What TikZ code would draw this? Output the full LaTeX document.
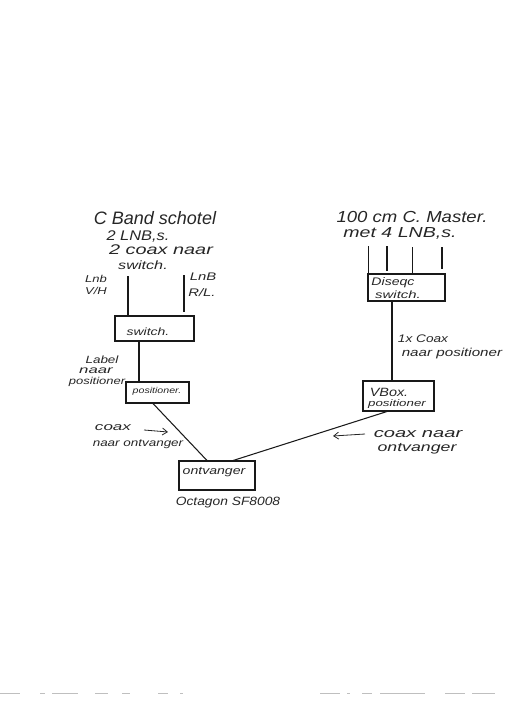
\documentclass[tikz,border=0pt]{standalone}
\usepackage{graphicx}
\usepackage{fontspec}
\setmainfont{Liberation Sans}
\usetikzlibrary{calc,arrows.meta}
\newcommand{\sx}[2]{\scalebox{#1}[1]{#2}}
\tikzset{
  wire/.style={line width=1.05pt,black!90},
  boxn/.style={draw=black!90,line width=1.05pt,inner sep=0pt,fill=none},
  hw/.style={inner sep=0pt,text=black!85,font=\itshape\fontsize{#1}{#1}\selectfont},
  pointer/.style={line width=0.8pt,black!85,-{Straight Barb[length=5pt,width=7pt]}},
  speck/.style={line width=0.5pt,black!25}
}
\begin{document}
\begin{tikzpicture}[x=1pt,y=-1pt]
\useasboundingbox (0,0) rectangle (509,720);
% boxes
\node[boxn,minimum width=79pt,minimum height=25pt] (sw) at (154.5,328.5) {};
\node[boxn,minimum width=63pt,minimum height=21pt] (pos) at (157.5,392.5) {};
\node[boxn,minimum width=76pt,minimum height=29pt] (ont) at (217,475.5) {};
\node[boxn,minimum width=77pt,minimum height=27pt] (dis) at (406.5,287.5) {};
\node[boxn,minimum width=71pt,minimum height=30pt] (vbox) at (398.5,396) {};
% free ends
\coordinate (lnbA) at (128,276);
\coordinate (lnbB) at (184,275);
\coordinate (m1) at (368.5,246);
\coordinate (m2) at (387,246);
\coordinate (m3) at (412.5,247);
\coordinate (m4) at (442,247);
% connectors
\draw[wire] (lnbA) -- (lnbA |- sw.north);
\draw[wire] (lnbB) -- ($(lnbB |- sw.north)+(0,-3)$);
\draw[wire] (139,0 |- sw.south) -- (139,0 |- pos.north);
\draw[wire] ($(pos.south west)!.43!(pos.south east)$) -- ($(ont.north west)!.37!(ont.north east)$);
\draw[wire] ($(ont.north west)!.71!(ont.north east)$) -- ($(vbox.south west)!.34!(vbox.south east)$);
\draw[wire] (m1) -- (m1 |- dis.north);
\draw[wire] (m2) -- ($(m2 |- dis.north)+(0,-2)$);
\draw[wire] (m3) -- (m3 |- dis.north);
\draw[wire] (m4) -- ($(m4 |- dis.north)+(0,-4)$);
\draw[wire] (392,0 |- dis.south) -- (392,0 |- vbox.north);
% pointers
\coordinate (p1a) at (144,430); \coordinate (p1b) at (168,432);
\coordinate (p2a) at (365,434); \coordinate (p2b) at (333,436);
\draw[pointer] (p1a) -- (p1b);
\draw[pointer] (p2a) -- (p2b);
% texts: left side
\node[hw=18] (t1) at (155,218) {C Band schotel};
\node[hw=14] (t2) at (138,237) {\sx{1.17}{2 LNB,s.}};
\node[hw=14] (t3) at (161,250) {\sx{1.42}{2 coax naar}};
\node[hw=12] (t4) at (143,265) {\sx{1.35}{switch.}};
\node[hw=10] (t5) at (96,279) {\sx{1.3}{Lnb}};
\node[hw=10] (t6) at (96,291) {\sx{1.3}{V/H}};
\node[hw=11] (t7) at (203,277) {\sx{1.35}{LnB}};
\node[hw=11] (t8) at (202,293) {\sx{1.35}{R/L.}};
\node[hw=10.5] (t9) at (148,332) {\sx{1.33}{switch.}};
\node[hw=10.5] (t10) at (102,360) {\sx{1.28}{Label}};
\node[hw=10.5] (t11) at (96,371) {\sx{1.6}{naar}};
\node[hw=10] (t12) at (97,382) {\sx{1.3}{positioner}};
\node[hw=8.5] (t13) at (157,391) {\sx{1.25}{positioner.}};
\node[hw=11] (t14) at (113,428) {\sx{1.55}{coax}};
\node[hw=10.5] (t15) at (138,444) {\sx{1.28}{naar ontvanger}};
\node[hw=11] (t16) at (214,472) {\sx{1.28}{ontvanger}};
\node[hw=12] (t17) at (228,503) {\sx{1.15}{Octagon SF8008}};
% texts: right side
\node[hw=16] (t18) at (412,217) {\sx{1.16}{100 cm C. Master.}};
\node[hw=14.5] (t19) at (400,233) {\sx{1.35}{met 4 LNB,s.}};
\node[hw=11] (t20) at (393,283) {\sx{1.28}{Diseqc}};
\node[hw=10.5] (t21) at (398,295) {\sx{1.42}{switch.}};
\node[hw=11] (t22) at (423,339) {\sx{1.24}{1x Coax}};
\node[hw=11.5] (t23) at (452,354) {\sx{1.32}{naar positioner}};
\node[hw=12] (t24) at (389,392) {\sx{1.2}{VBox.}};
\node[hw=9.5] (t25) at (397,404.5) {\sx{1.4}{positioner}};
\node[hw=13] (t26) at (418,434) {\sx{1.55}{coax naar}};
\node[hw=12.5] (t27) at (417,449) {\sx{1.42}{ontvanger}};
% scanner specks along the bottom edge
\foreach \a/\b in {0/20,40/45,52/78,95/108,122/130,158/168,180/183,320/340,347/350,362/372,380/425,445/465,472/495}
  \draw[speck] (\a,693.5) -- (\b,693.5);
\end{tikzpicture}
\end{document}
